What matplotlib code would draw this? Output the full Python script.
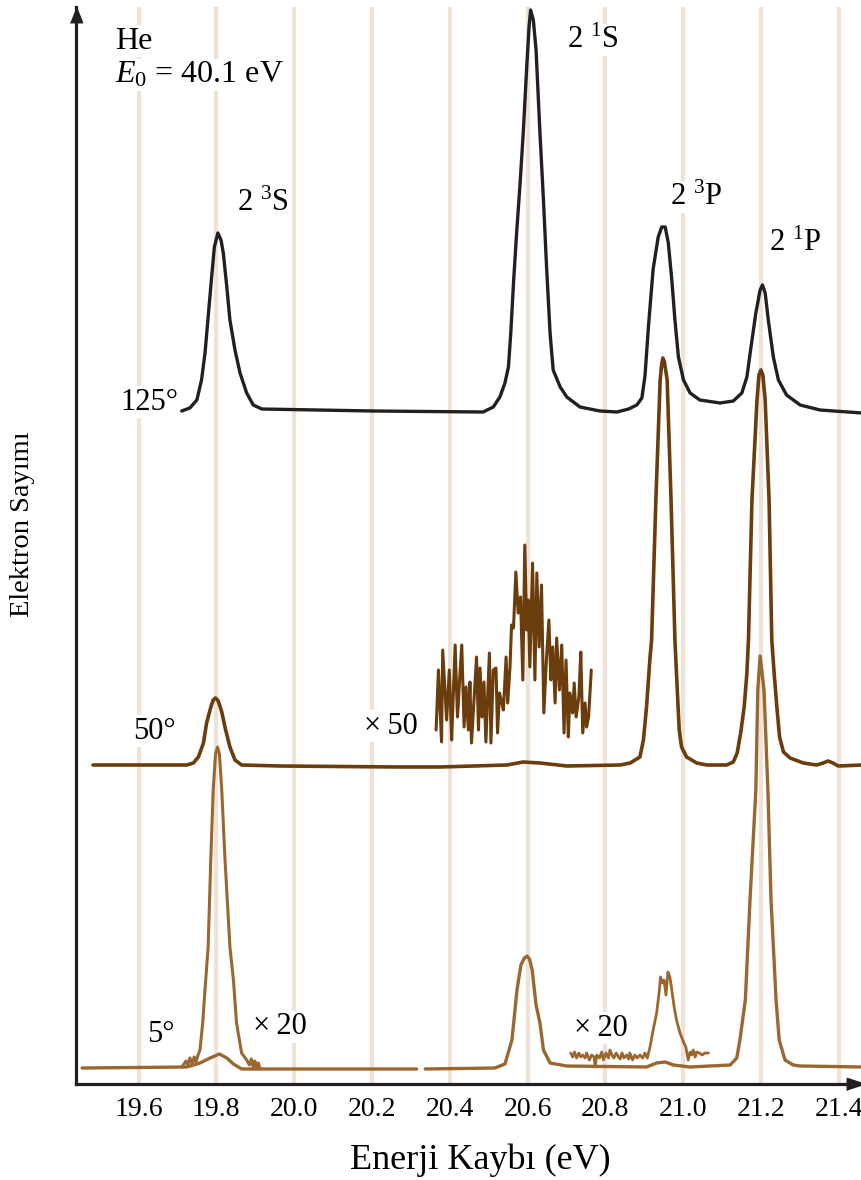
import matplotlib
matplotlib.use("Agg")
import matplotlib.pyplot as plt

plt.rcParams['font.family'] = ['Liberation Serif', 'DejaVu Serif']
plt.rcParams['mathtext.fontset'] = 'custom'
plt.rcParams['mathtext.rm'] = 'Liberation Serif'
plt.rcParams['mathtext.it'] = 'Liberation Serif:italic'

# energy loss (eV) and electron counts (arb. units, traces stacked)
e_125 = [19.711, 19.732, 19.750, 19.762, 19.771, 19.779, 19.788, 19.795, 19.804, 19.812,
         19.818, 19.827, 19.835, 19.848, 19.861, 19.878, 19.895, 19.917, 20.203, 20.486,
         20.512, 20.529, 20.542, 20.551, 20.557, 20.564, 20.572, 20.581, 20.589, 20.598,
         20.604, 20.608, 20.615, 20.622, 20.632, 20.641, 20.649, 20.658, 20.666, 20.684,
         20.701, 20.735, 20.786, 20.830, 20.860, 20.881, 20.894, 20.902, 20.911, 20.923,
         20.936, 20.945, 20.954, 20.962, 20.971, 20.979, 20.988, 21.001, 21.018, 21.043,
         21.095, 21.129, 21.151, 21.164, 21.176, 21.187, 21.198, 21.204, 21.211, 21.219,
         21.232, 21.245, 21.266, 21.301, 21.352, 21.460]
c_125 = [67.3, 67.6, 68.4, 70.4, 73.1, 76.7, 80.7, 83.7, 85.1, 84.4,
         83.1, 79.7, 76.4, 73.4, 71.1, 69.1, 67.9, 67.5, 67.3, 67.2,
         67.7, 68.7, 70.1, 71.7, 75.1, 80.1, 85.1, 90.1, 95.1, 101.7,
         105.7, 107.4, 106.4, 103.4, 95.1, 88.4, 81.7, 75.1, 71.4, 69.7,
         68.7, 67.7, 67.3, 67.2, 67.5, 67.9, 68.6, 70.8, 75.8, 81.5,
         84.7, 85.7, 85.7, 84.1, 80.4, 76.4, 72.7, 70.4, 69.1, 68.4,
         68.1, 68.3, 69.1, 70.7, 74.1, 77.1, 79.4, 79.9, 79.1, 76.4,
         72.7, 70.4, 68.9, 67.9, 67.4, 67.1]

e_50 = [19.483, 19.724, 19.741, 19.754, 19.767, 19.775, 19.786, 19.792, 19.798, 19.805,
        19.814, 19.824, 19.835, 19.848, 19.865, 19.964, 20.272, 20.375, 20.547, 20.589,
        20.632, 20.701, 20.838, 20.864, 20.889, 20.898, 20.906, 20.915, 20.919, 20.930,
        20.941, 20.945, 20.948, 20.952, 20.959, 20.969, 20.979, 20.985, 20.990, 20.996,
        21.009, 21.035, 21.061, 21.112, 21.129, 21.139, 21.148, 21.157, 21.164, 21.168,
        21.177, 21.190, 21.195, 21.200, 21.205, 21.211, 21.221, 21.228, 21.234, 21.241,
        21.248, 21.258, 21.275, 21.309, 21.343, 21.360, 21.373, 21.385, 21.399, 21.460]
c_50 = [31.9, 31.9, 32.1, 32.7, 34.1, 36.1, 37.7, 38.4, 38.6, 38.3,
        37.2, 35.4, 33.7, 32.4, 31.9, 31.8, 31.7, 31.7, 31.9, 32.2,
        32.1, 31.8, 31.9, 32.1, 32.7, 34.4, 37.7, 42.7, 44.4, 58.4,
        70.4, 72.0, 72.6, 72.2, 70.4, 58.4, 44.4, 39.4, 35.4, 33.7,
        32.7, 32.1, 31.9, 31.9, 32.2, 33.1, 35.1, 37.7, 41.1, 44.4,
        58.4, 68.4, 70.9, 71.4, 70.9, 68.4, 58.4, 44.4, 41.1, 37.7,
        34.7, 33.2, 32.6, 32.1, 31.9, 32.1, 32.3, 32.1, 31.8, 31.9]

# 50 deg, 2 1S region scaled x50
e_50x = [20.365, 20.371, 20.379, 20.382, 20.392, 20.399, 20.405, 20.409, 20.414, 20.420,
         20.425, 20.431, 20.437, 20.442, 20.448, 20.452, 20.456, 20.462, 20.469, 20.474,
         20.478, 20.483, 20.488, 20.493, 20.502, 20.506, 20.512, 20.519, 20.523, 20.528,
         20.534, 20.538, 20.545, 20.549, 20.555, 20.559, 20.564, 20.570, 20.576, 20.582,
         20.588, 20.593, 20.598, 20.602, 20.606, 20.613, 20.619, 20.624, 20.630, 20.636,
         20.642, 20.649, 20.655, 20.660, 20.665, 20.671, 20.675, 20.682, 20.688, 20.694,
         20.699, 20.705, 20.709, 20.716, 20.720, 20.725, 20.732, 20.737, 20.742, 20.748,
         20.752, 20.757, 20.764]
c_50x = [35.4, 41.4, 34.2, 43.4, 36.4, 41.4, 34.4, 38.7, 43.9, 36.7,
         40.1, 43.9, 35.7, 39.7, 35.4, 40.2, 34.1, 38.1, 42.7, 35.4,
         41.6, 36.7, 40.2, 34.2, 43.1, 34.1, 41.4, 41.6, 35.1, 39.1,
         38.1, 37.4, 42.7, 38.1, 41.7, 45.9, 45.6, 51.2, 47.1, 48.7,
         40.4, 53.9, 45.4, 48.4, 41.7, 52.1, 40.4, 51.1, 43.7, 49.9,
         37.1, 42.7, 46.4, 40.4, 43.7, 38.1, 44.6, 39.4, 43.9, 35.1,
         42.4, 34.7, 39.1, 37.1, 40.1, 36.7, 38.7, 43.2, 35.1, 38.1,
         35.7, 36.7, 41.4]

# 5 deg trace (broken near 20.32 eV)
e_5a = [19.455, 19.724, 19.758, 19.784, 19.808, 19.827, 19.844, 19.865, 20.315]
c_5a = [1.6, 1.7, 2.1, 2.6, 3.0, 2.6, 2.0, 1.5, 1.5]
e_5b = [20.337, 20.516, 20.542, 20.560, 20.573, 20.583, 20.592, 20.599, 20.605, 20.612,
        20.622, 20.632, 20.641, 20.658, 20.701, 20.906, 20.932, 20.954, 20.975, 21.018,
        21.121, 21.138, 21.146, 21.160, 21.172, 21.187, 21.192, 21.198, 21.208, 21.218,
        21.226, 21.239, 21.247, 21.262, 21.283, 21.301, 21.460]
c_5b = [1.5, 1.6, 2.0, 4.4, 9.4, 11.9, 12.6, 12.8, 12.5, 11.4,
        7.9, 6.1, 3.4, 2.1, 1.8, 1.7, 2.1, 2.2, 1.9, 1.7,
        1.9, 2.6, 4.4, 8.4, 18.4, 29.4, 39.4, 42.8, 39.4, 29.4,
        18.4, 8.4, 4.4, 2.4, 1.9, 1.8, 1.7]

# 5 deg, 2 3S region scaled x20
e_5x1 = [19.711, 19.717, 19.722, 19.727, 19.732, 19.738, 19.743, 19.748, 19.753, 19.758,
         19.765, 19.772, 19.779, 19.786, 19.792, 19.798, 19.803, 19.808, 19.814, 19.822,
         19.835, 19.844, 19.852, 19.865, 19.878, 19.885, 19.890, 19.895, 19.899, 19.904,
         19.908, 19.912]
c_5x1 = [1.7, 2.0, 2.3, 1.9, 2.6, 2.0, 2.7, 2.2, 2.9, 3.4,
         6.1, 10.0, 13.7, 22.7, 29.4, 33.0, 33.7, 33.0, 29.4, 22.7,
         13.7, 10.4, 6.1, 3.1, 2.4, 1.9, 2.5, 1.7, 2.3, 1.7,
         2.1, 1.6]

# 5 deg, 2 3P region scaled x20
e_5x2 = [20.711, 20.716, 20.721, 20.726, 20.732, 20.737, 20.742, 20.748, 20.752, 20.759,
         20.765, 20.771, 20.774, 20.778, 20.785, 20.791, 20.795, 20.802, 20.808, 20.812,
         20.817, 20.822, 20.828, 20.834, 20.838, 20.843, 20.848, 20.855, 20.860, 20.863,
         20.870, 20.876, 20.882, 20.889, 20.896, 20.902, 20.908, 20.915, 20.923, 20.932,
         20.939, 20.942, 20.947, 20.951, 20.956, 20.961, 20.966, 20.971, 20.977, 20.983,
         20.992, 21.001, 21.007, 21.013, 21.018, 21.022, 21.026, 21.031, 21.035, 21.042,
         21.049, 21.056, 21.065]
c_5x2 = [3.1, 2.7, 3.2, 2.6, 3.1, 2.7, 2.9, 2.6, 3.1, 2.4,
         2.9, 2.7, 1.7, 2.9, 2.6, 3.2, 2.4, 3.1, 2.6, 3.4,
         2.9, 2.6, 3.1, 2.7, 2.5, 3.1, 2.6, 2.9, 2.5, 3.1,
         2.4, 2.9, 2.6, 2.9, 2.6, 3.1, 2.6, 3.7, 5.4, 7.1,
         9.4, 10.7, 10.1, 10.4, 8.9, 11.2, 10.7, 9.4, 7.7, 6.4,
         5.1, 4.2, 3.7, 2.4, 3.2, 2.9, 3.4, 2.7, 3.2, 3.1,
         2.9, 3.1, 3.1]

ticks = [19.6, 19.8, 20.0, 20.2, 20.4, 20.6, 20.8, 21.0, 21.2, 21.4]

ink = '#231f20'
brown_50 = '#6b3c0c'
brown_5 = '#9b6731'
grid_col = '#eee3d6'

fig = plt.figure(figsize=(8.62, 11.8), dpi=100)
ax = fig.add_axes([76 / 862, 96 / 1180, 786 / 862, 1077 / 1180])
ax.set_xlim(19.4393, 21.4599)
ax.set_ylim(0, 107.7)

ax.set_xticks(ticks)
ax.set_xticklabels([f"{t:.1f}" for t in ticks], fontsize=20)
ax.set_yticks([])
ax.tick_params(axis='x', length=0, pad=9)
ax.grid(axis='x', color=grid_col, linewidth=3)
ax.set_axisbelow(True)

for side in ['top', 'right']:
    ax.spines[side].set_visible(False)
for side in ['left', 'bottom']:
    ax.spines[side].set_linewidth(2.3)
    ax.spines[side].set_color(ink)

# arrow heads on both axes
ax.plot([0], [1], transform=ax.transAxes, clip_on=False, color=ink,
        marker=[(-0.4, -1), (0.4, -1), (0, 0)], markersize=22, zorder=5)
ax.plot([1], [0], transform=ax.transAxes, clip_on=False, color=ink,
        marker=[(-1, -0.4), (-1, 0.4), (0.2, 0)], markersize=22, zorder=5)

kw = dict(solid_joinstyle='round', solid_capstyle='round', clip_on=False)
ax.plot(e_125, c_125, color=ink, linewidth=2.4, **kw)
ax.plot(e_50, c_50, color=brown_50, linewidth=2.6, **kw)
ax.plot(e_50x, c_50x, color=brown_50, linewidth=2.2, **kw)
ax.plot(e_5a, c_5a, color=brown_5, linewidth=2.4, **kw)
ax.plot(e_5b, c_5b, color=brown_5, linewidth=2.4, **kw)
ax.plot(e_5x1, c_5x1, color=brown_5, linewidth=2.2, **kw)
ax.plot(e_5x2, c_5x2, color=brown_5, linewidth=2.0, **kw)

box = dict(facecolor='white', edgecolor='none', pad=1.0)

ax.text(19.540, 104.3, "He", fontsize=23, ha='left', va='center', bbox=box)
ax.text(19.540, 100.9, r"$E_0$ = 40.1 eV", fontsize=23, ha='left', va='center', bbox=box)

ax.text(19.920, 88.1, r"2 ${}^{3}$S", fontsize=22, ha='center', va='center', bbox=box)
ax.text(20.768, 104.4, r"2 ${}^{1}$S", fontsize=22, ha='center', va='center', bbox=box)
ax.text(21.033, 88.7, r"2 ${}^{3}$P", fontsize=22, ha='center', va='center', bbox=box)
ax.text(21.288, 84.1, r"2 ${}^{1}$P", fontsize=22, ha='center', va='center', bbox=box)

ax.text(19.702, 68.2, "125°", fontsize=22, ha='right', va='center', bbox=box)
ax.text(19.696, 35.3, "50°", fontsize=22, ha='right', va='center', bbox=box)
ax.text(19.694, 4.9, "5°", fontsize=22, ha='right', va='center', bbox=box)

ax.text(20.249, 35.8, "×\u200950", fontsize=22, ha='center', va='center', bbox=box)
ax.text(19.964, 5.7, "×\u200920", fontsize=22, ha='center', va='center', bbox=box)
ax.text(20.789, 5.6, "×\u200920", fontsize=22, ha='center', va='center', bbox=box)

fig.text(480 / 862, 1 - 1160 / 1180, "Enerji Kaybı (eV)", fontsize=26,
         ha='center', va='center')
fig.text(23 / 862, 1 - 524 / 1180, "Elektron Sayımı", fontsize=20.5,
         rotation=90, ha='center', va='center')

fig.savefig("out.png", dpi=100)
